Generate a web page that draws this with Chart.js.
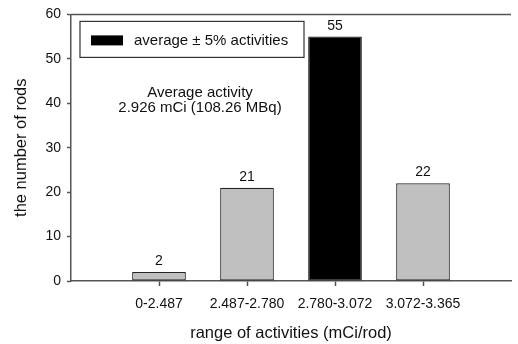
<!DOCTYPE html>
<html>
<head>
<meta charset="utf-8">
<script src="https://cdn.jsdelivr.net/npm/chart.js@4/dist/chart.umd.min.js"></script>
<style>
  html, body { margin: 0; padding: 0; background: #fff; overflow: hidden; }
</style>
</head>
<body>
<canvas id="barChart" width="521" height="344"></canvas>
<script>
// values
const categories = ["0-2.487", "2.487-2.780", "2.780-3.072", "3.072-3.365"];
const rodCounts = [2, 21, 55, 22];
const isAverage = [false, false, true, false];
const yTicks = [0, 10, 20, 30, 40, 50, 60];
const legendText = "average \u00b1 5% activities";
const noteLines = ["Average activity", "2.926 mCi (108.26 MBq)"];

const FONT = "'Liberation Sans', Arial, sans-serif";
const AXIS = "#555";
const INK = "#111";

// one empty slot each side so the bars sit on whole-number positions
const labels = [""].concat(categories, [""]);
const values = [null].concat(rodCounts, [null]);
const fills = ["#c0c0c0"].concat(isAverage.map(a => a ? "#000000" : "#c0c0c0"), ["#c0c0c0"]);

const extras = {
  id: "extras",
  afterDatasetsDraw(chart) {
    const ctx = chart.ctx;
    const area = chart.chartArea;
    ctx.save();

    // top frame line
    ctx.strokeStyle = AXIS;
    ctx.lineWidth = 1.5;
    ctx.beginPath();
    ctx.moveTo(area.left, area.top);
    ctx.lineTo(area.right, area.top);
    ctx.stroke();

    // value labels above bars
    ctx.fillStyle = INK;
    ctx.font = "14px " + FONT;
    ctx.textAlign = "center";
    ctx.textBaseline = "alphabetic";
    chart.getDatasetMeta(0).data.forEach((bar, i) => {
      if (values[i] == null) return;
      ctx.fillText(String(values[i]), bar.x, bar.y - 7);
    });

    // legend box
    const lx = area.left + 9, ly = area.top + 7, lw = 224, lh = 36;
    ctx.fillStyle = "#fff";
    ctx.fillRect(lx, ly, lw, lh);
    ctx.strokeStyle = "#333";
    ctx.lineWidth = 1.2;
    ctx.strokeRect(lx, ly, lw, lh);
    ctx.fillStyle = "#000";
    ctx.fillRect(lx + 11, ly + 14, 32, 10);
    ctx.fillStyle = INK;
    ctx.textAlign = "left";
    ctx.textBaseline = "middle";
    ctx.font = "15px " + FONT;
    ctx.fillText(legendText, lx + 54, ly + 19);

    // note
    ctx.textAlign = "center";
    ctx.textBaseline = "alphabetic";
    ctx.fillText(noteLines[0], 200, 97);
    ctx.fillText(noteLines[1], 200, 112);
    ctx.restore();
  }
};

new Chart(document.getElementById("barChart"), {
  type: "bar",
  data: {
    labels: labels,
    datasets: [{
      label: legendText,
      data: values,
      backgroundColor: fills,
      borderColor: "#222",
      borderWidth: 1.2,
      borderSkipped: false,
      categoryPercentage: 0.61,
      barPercentage: 1
    }]
  },
  options: {
    responsive: false,
    animation: false,
    layout: { padding: { top: 14, right: 0, left: 0, bottom: 0 } },
    plugins: {
      legend: { display: false },
      tooltip: { enabled: false }
    },
    scales: {
      x: {
        offset: false,
        afterFit(scale) { scale.height = 63; },
        grid: {
          offset: false,
          drawOnChartArea: false,
          tickLength: 5,
          tickWidth: 1.5,
          tickColor: (c) => (c.index === 0 || c.index === labels.length - 1) ? "rgba(0,0,0,0)" : AXIS
        },
        border: { color: AXIS, width: 1.5 },
        ticks: {
          padding: 10,
          maxRotation: 0,
          autoSkip: false,
          color: INK,
          font: { family: FONT, size: 14 }
        },
        title: {
          display: true,
          text: "range of activities (mCi/rod)",
          color: INK,
          font: { family: FONT, size: 16.5 },
          padding: { top: 0, bottom: 1 }
        }
      },
      y: {
        min: yTicks[0],
        max: yTicks[yTicks.length - 1],
        afterFit(scale) { scale.width = 71; },
        afterBuildTicks(scale) { scale.ticks = yTicks.map(v => ({ value: v })); },
        grid: {
          drawOnChartArea: false,
          tickLength: 4,
          tickWidth: 1.5,
          tickColor: AXIS
        },
        border: { color: AXIS, width: 1.5 },
        ticks: {
          padding: 6,
          color: INK,
          font: { family: FONT, size: 14 }
        },
        title: {
          display: true,
          text: "the number of rods",
          color: INK,
          font: { family: FONT, size: 16.5 },
          padding: { top: 12, bottom: 0 }
        }
      }
    }
  },
  plugins: [extras]
});
</script>
</body>
</html>
